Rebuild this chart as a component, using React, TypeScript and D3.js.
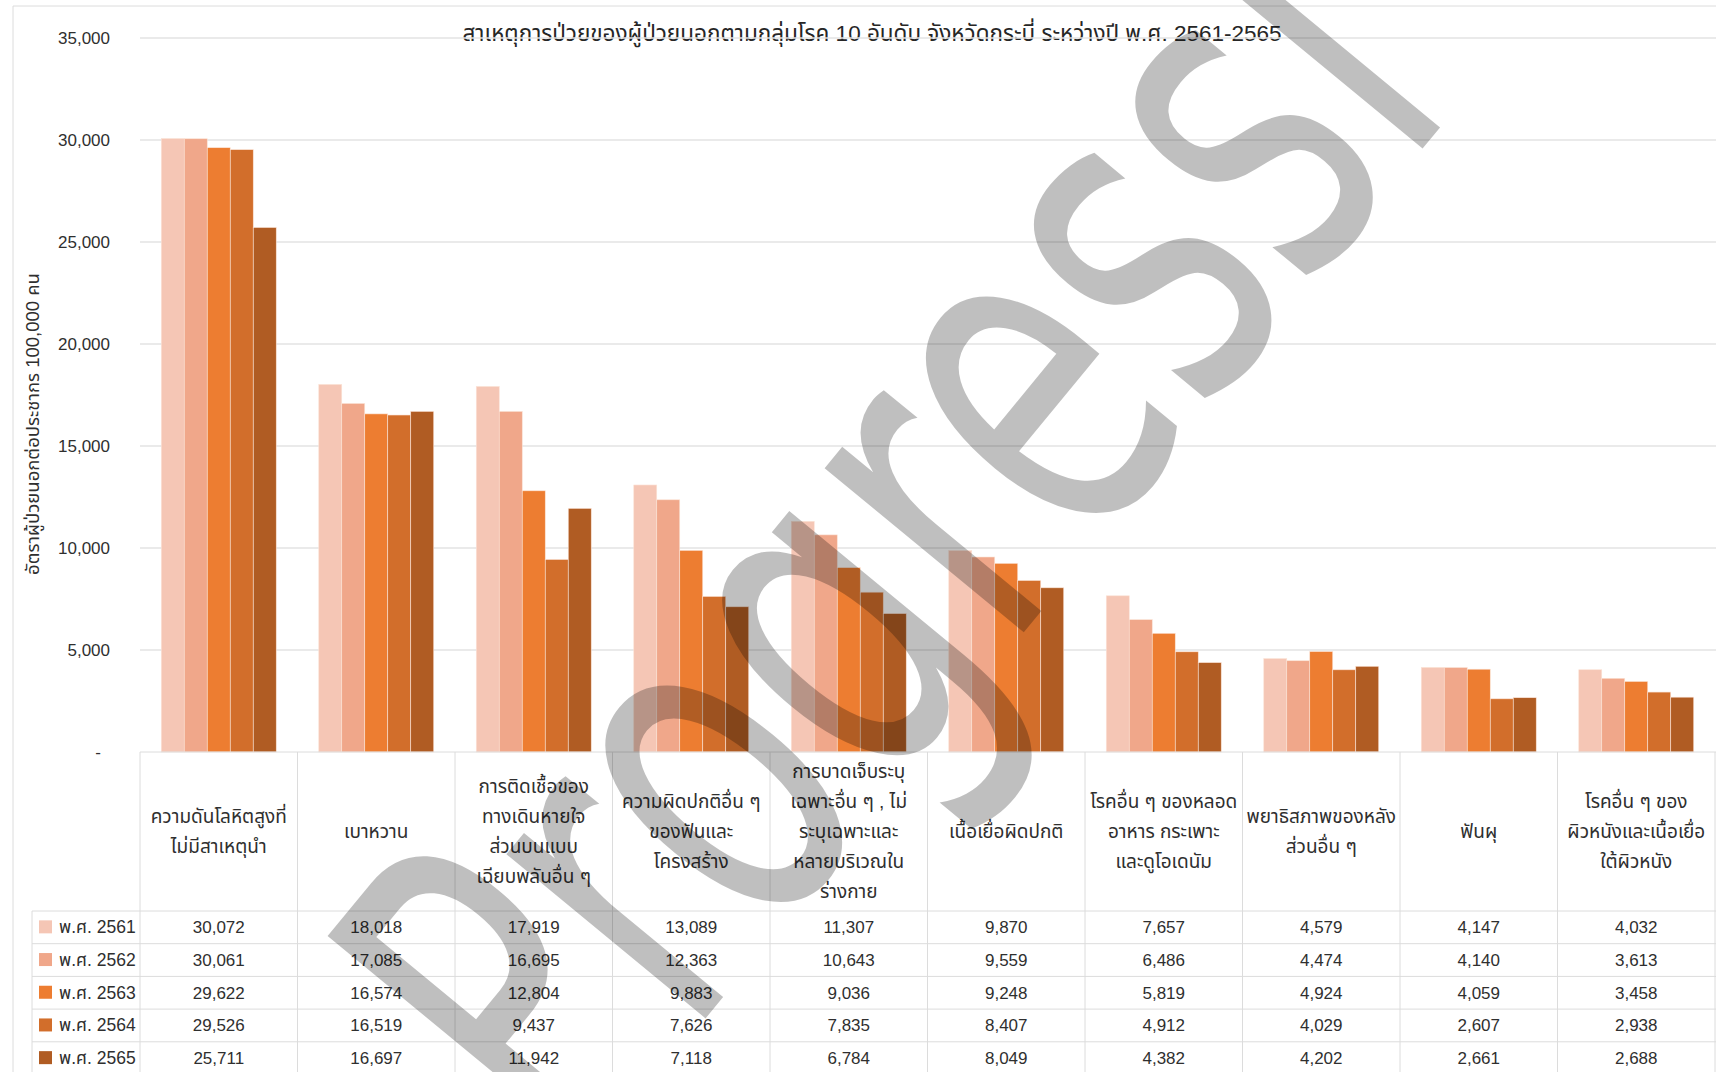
import React from "react";
import * as d3 from "d3";

const TITLE = "สาเหตุการป่วยของผู้ป่วยนอกตามกลุ่มโรค 10 อันดับ จังหวัดกระบี่ ระหว่างปี พ.ศ. 2561-2565";
const Y_TITLE = "อัตราผู้ป่วยนอกต่อประชากร 100,000 คน";

const categories: string[][] = [
  ["ความดันโลหิตสูงที่", "ไม่มีสาเหตุนำ"],
  ["เบาหวาน"],
  ["การติดเชื้อของ", "ทางเดินหายใจ", "ส่วนบนแบบ", "เฉียบพลันอื่น ๆ"],
  ["ความผิดปกติอื่น ๆ", "ของฟันและ", "โครงสร้าง"],
  ["การบาดเจ็บระบุ", "เฉพาะอื่น ๆ , ไม่", "ระบุเฉพาะและ", "หลายบริเวณใน", "ร่างกาย"],
  ["เนื้อเยื่อผิดปกติ"],
  ["โรคอื่น ๆ ของหลอด", "อาหาร กระเพาะ", "และดูโอเดนัม"],
  ["พยาธิสภาพของหลัง", "ส่วนอื่น ๆ"],
  ["ฟันผุ"],
  ["โรคอื่น ๆ ของ", "ผิวหนังและเนื้อเยื่อ", "ใต้ผิวหนัง"],
];

const years = ["พ.ศ. 2561", "พ.ศ. 2562", "พ.ศ. 2563", "พ.ศ. 2564", "พ.ศ. 2565"];

const v2561 = [30072, 18018, 17919, 13089, 11307, 9870, 7657, 4579, 4147, 4032];
const v2562 = [30061, 17085, 16695, 12363, 10643, 9559, 6486, 4474, 4140, 3613];
const v2563 = [29622, 16574, 12804, 9883, 9036, 9248, 5819, 4924, 4059, 3458];
const v2564 = [29526, 16519, 9437, 7626, 7835, 8407, 4912, 4029, 2607, 2938];
const v2565 = [25711, 16697, 11942, 7118, 6784, 8049, 4382, 4202, 2661, 2688];

const yTicks = [0, 5000, 10000, 15000, 20000, 25000, 30000, 35000];

const colors = ["#F5C6B5", "#F0A78A", "#ED7D31", "#D26E2B", "#B05C23"];

const WATERMARK = "Progressi";

const series = [v2561, v2562, v2563, v2564, v2565];

export default function App() {
  const W = 1716;
  const H = 1072;
  const plotL = 140;
  const plotR = 1715;
  const plotTop = 38;
  const plotBottom = 752;

  const y = d3.scaleLinear().domain([0, 35000]).range([plotBottom, plotTop]);
  const idx = categories.map((_, i) => String(i));
  const x0 = d3.scaleBand().domain(idx).range([plotL, plotR]).paddingInner(0.27).paddingOuter(0.135);
  const x1 = d3.scaleBand().domain(years).range([0, x0.bandwidth()]);
  const step = x0.step();
  const colX = (i: number) => plotL + step * i;

  const headerTop = plotBottom;
  const headerBottom = 911;
  const rowH = 32.7;
  const legendL = 32;
  const fmt = d3.format(",");
  const font = "'Liberation Sans', Tahoma, 'Noto Sans Thai', sans-serif";
  const textColor = "#2f2f2f";
  const gridColor = "#e3e3e3";
  const lineColor = "#dcdcdc";

  // watermark geometry
  const ang = -50.5;
  const F = 472;
  const sx = 0.648;

  return (
    <svg width={W} height={H} style={{ position: "absolute", left: 0, top: 0, background: "#fff" }} fontFamily={font}>
      <rect x={0} y={0} width={W} height={H} fill="#fff" />
      {/* chart border */}
      <line x1={13} y1={6} x2={W} y2={6} stroke={lineColor} />
      <line x1={13} y1={6} x2={13} y2={H} stroke={lineColor} />

      {/* title */}
      <text x={872} y={41} textAnchor="middle" fontSize={22.5} fill="#262626">{TITLE}</text>

      {/* gridlines */}
      {yTicks.filter((t) => t > 0).map((t) => (
        <line key={t} x1={plotL} x2={W} y1={y(t)} y2={y(t)} stroke={gridColor} strokeWidth={1.3} />
      ))}
      {/* y tick labels */}
      {yTicks.map((t) => (
        <text key={t} x={t === 0 ? 101 : 110} y={y(t) + 6} textAnchor="end" fontSize={17} fill={textColor}>
          {t === 0 ? "-" : fmt(t)}
        </text>
      ))}
      {/* y title */}
      <text transform={`translate(39,424) rotate(-90)`} textAnchor="middle" fontSize={18.5} fill={textColor}>{Y_TITLE}</text>

      {/* bars */}
      {categories.map((_, ci) => (
        <g key={ci} transform={`translate(${x0(String(ci))},0)`}>
          {series.map((s, si) => (
            <rect key={si} x={x1(years[si])} y={y(s[ci])} width={x1.bandwidth()} height={plotBottom - y(s[ci])} fill={colors[si]} stroke="#fbe3d6" strokeWidth={0.6} />
          ))}
        </g>
      ))}

      {/* table lines */}
      <line x1={plotL} x2={W} y1={headerTop} y2={headerTop} stroke={lineColor} />
      {d3.range(11).map((i) => (
        <line key={i} x1={colX(i)} x2={colX(i)} y1={headerTop} y2={H} stroke={lineColor} />
      ))}
      <line x1={legendL} x2={legendL} y1={headerBottom} y2={H} stroke={lineColor} />
      {d3.range(6).map((r) => (
        <line key={r} x1={legendL} x2={W} y1={headerBottom + r * rowH} y2={headerBottom + r * rowH} stroke={lineColor} />
      ))}

      {/* header text */}
      {categories.map((lines, ci) => {
        const cx = colX(ci) + step / 2;
        const cy = (headerTop + headerBottom) / 2;
        const lh = 30;
        const startY = cy - ((lines.length - 1) * lh) / 2;
        return (
          <text key={ci} textAnchor="middle" fontSize={19} fill={textColor}>
            {lines.map((ln, li) => (
              <tspan key={li} x={cx} y={startY + li * lh + 6}>{ln}</tspan>
            ))}
          </text>
        );
      })}

      {/* rows */}
      {series.map((s, si) => {
        const cy = headerBottom + si * rowH + rowH / 2;
        return (
          <g key={si}>
            <rect x={39} y={cy - 7} width={13} height={13} fill={colors[si]} />
            <text x={59} y={cy + 6} fontSize={17.5} fill={textColor}>{years[si]}</text>
            {s.map((v, ci) => (
              <text key={ci} x={colX(ci) + step / 2} y={cy + 6} textAnchor="middle" fontSize={17} fill={textColor}>{fmt(v)}</text>
            ))}
          </g>
        );
      })}

      {/* watermark */}
      <text
        transform={`translate(574,1178) rotate(${ang}) scale(${sx},1)`}
        fontSize={F}
        fontFamily="'DejaVu Sans', sans-serif"
        fill="#000"
        fillOpacity={0.25}
      >
        {WATERMARK}
      </text>
    </svg>
  );
}
